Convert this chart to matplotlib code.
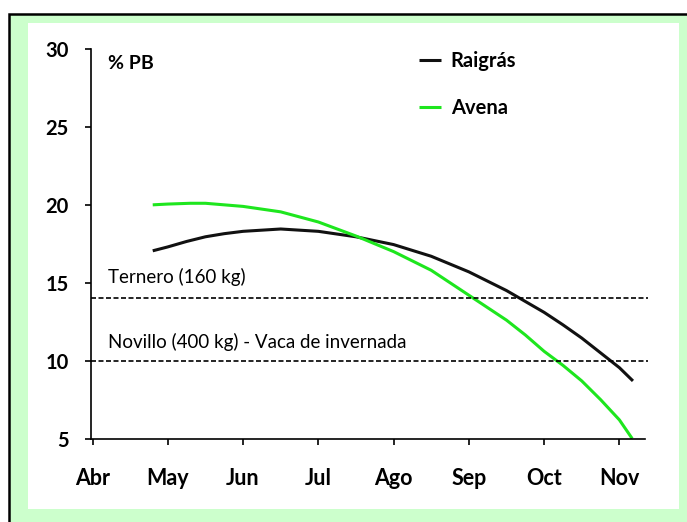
import matplotlib
matplotlib.use('Agg')
import matplotlib.pyplot as plt
from matplotlib.patches import Rectangle

# months counted from Abr = 0
meses = ['Abr', 'May', 'Jun', 'Jul', 'Ago', 'Sep', 'Oct', 'Nov']

raigras_x = [0.80, 1.0, 1.25, 1.5, 1.75, 2.0, 2.5, 3.0, 3.5, 4.0, 4.5, 5.0, 5.5, 5.75, 6.0, 6.25, 6.5, 6.75, 7.0, 7.18]
raigras_pb = [17.05, 17.3, 17.65, 17.95, 18.15, 18.3, 18.45, 18.3, 17.95, 17.45, 16.7, 15.7, 14.5, 13.8, 13.1, 12.3, 11.45, 10.5, 9.55, 8.7]

avena_x = [0.80, 1.0, 1.3, 1.5, 2.0, 2.5, 3.0, 3.5, 4.0, 4.5, 5.0, 5.5, 5.75, 6.0, 6.25, 6.5, 6.75, 7.0, 7.17]
avena_pb = [20.0, 20.05, 20.1, 20.1, 19.9, 19.55, 18.9, 18.0, 17.0, 15.8, 14.2, 12.6, 11.65, 10.6, 9.7, 8.7, 7.5, 6.2, 5.0]

ternero = 14
novillo = 10

plt.rcParams['font.family'] = ['Lato', 'DejaVu Sans']

fig = plt.figure(figsize=(6.87, 5.22), dpi=100)
fig.patch.set_facecolor('white')

W, H = 687.0, 522.0
# green frame with black border, then white panel
fig.patches.append(Rectangle((9 / W, -0.1), 1.1, 1 - 14 / H + 0.1, transform=fig.transFigure,
                             facecolor='#ccffcc', edgecolor='black', linewidth=1.8, zorder=-3))
fig.patches.append(Rectangle((28 / W, 1 - 509 / H), (679 - 28) / W, (509 - 23) / H,
                             transform=fig.transFigure, facecolor='white', edgecolor='none', zorder=-2))

ax = fig.add_axes([91 / W, 1 - 438.6 / H, (645 - 91) / W, (438.6 - 49) / H])
ax.set_facecolor('none')

ax.plot(raigras_x, raigras_pb, color='#111111', lw=2.2, label='Raigrás', solid_capstyle='butt')
ax.plot(avena_x, avena_pb, color='#1ee61e', lw=2.2, label='Avena', solid_capstyle='butt')

ax.axhline(ternero, color='black', lw=1.2, dashes=(3, 1.5), xmax=1.005, clip_on=False)
ax.axhline(novillo, color='black', lw=1.2, dashes=(3, 1.5), xmax=1.005, clip_on=False)

ax.text(0.21, ternero + 1.0, 'Ternero (160 kg)', fontsize=13.5, va='baseline')
ax.text(0.21, novillo + 0.8, 'Novillo (400 kg) - Vaca de invernada', fontsize=13.5, va='baseline')
ax.text(0.21, 29.05, '% PB', fontsize=14, fontweight='bold', va='center')

ax.set_xlim(-0.02, 7.34)
ax.set_ylim(5, 30)
ax.set_xticks(range(len(meses)))
ax.set_xticklabels(meses)
ax.set_yticks([5, 10, 15, 20, 25, 30])

for s in ['top', 'right']:
    ax.spines[s].set_visible(False)
for s in ['left', 'bottom']:
    ax.spines[s].set_linewidth(1.2)

ax.tick_params(axis='both', direction='out', length=4, width=1.2)
ax.tick_params(axis='y', pad=12, labelsize=14.5)
ax.tick_params(axis='x', pad=17, labelsize=15.5)
for lab in ax.get_xticklabels() + ax.get_yticklabels():
    lab.set_fontweight('bold')

leg = ax.legend(loc='upper left', bbox_to_anchor=(0.573, 1.02), frameon=False,
                handlelength=1.1, handletextpad=0.5, labelspacing=1.35, borderpad=0,
                prop={'weight': 'bold', 'size': 14.5})

fig.savefig('out.png', dpi=100, facecolor=fig.get_facecolor())
